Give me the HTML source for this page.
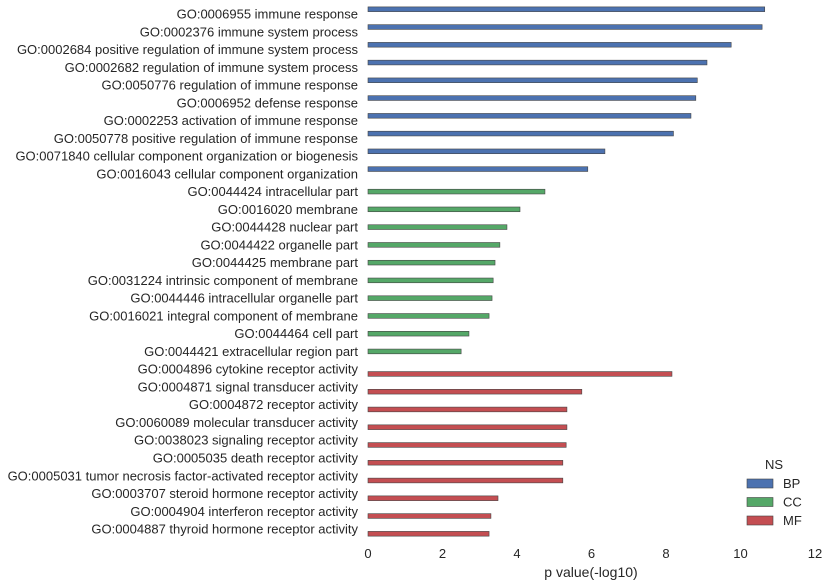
<!DOCTYPE html>
<html><head><meta charset="utf-8"><style>
html,body{margin:0;padding:0;background:#fff;}
svg{display:block;font-family:"Liberation Sans",Arial,sans-serif;}
</style></head><body>
<svg id="chart" width="828" height="587" viewBox="0 0 828 587"></svg>
<script>
const categories = [
"GO:0006955 immune response","GO:0002376 immune system process","GO:0002684 positive regulation of immune system process","GO:0002682 regulation of immune system process","GO:0050776 regulation of immune response","GO:0006952 defense response","GO:0002253 activation of immune response","GO:0050778 positive regulation of immune response","GO:0071840 cellular component organization or biogenesis","GO:0016043 cellular component organization",
"GO:0044424 intracellular part","GO:0016020 membrane","GO:0044428 nuclear part","GO:0044422 organelle part","GO:0044425 membrane part","GO:0031224 intrinsic component of membrane","GO:0044446 intracellular organelle part","GO:0016021 integral component of membrane","GO:0044464 cell part","GO:0044421 extracellular region part",
"GO:0004896 cytokine receptor activity","GO:0004871 signal transducer activity","GO:0004872 receptor activity","GO:0060089 molecular transducer activity","GO:0038023 signaling receptor activity","GO:0005035 death receptor activity","GO:0005031 tumor necrosis factor-activated receptor activity","GO:0003707 steroid hormone receptor activity","GO:0004904 interferon receptor activity","GO:0004887 thyroid hormone receptor activity"];
const namespaces = ["BP","CC","MF"];
const rowNamespace = ["BP","BP","BP","BP","BP","BP","BP","BP","BP","BP","CC","CC","CC","CC","CC","CC","CC","CC","CC","CC","MF","MF","MF","MF","MF","MF","MF","MF","MF","MF"];
const values = [10.65,10.58,9.75,9.1,8.84,8.8,8.67,8.2,6.36,5.9, 4.75,4.08,3.73,3.54,3.41,3.36,3.33,3.25,2.71,2.5, 8.16,5.74,5.34,5.34,5.32,5.23,5.23,3.49,3.3,3.25];
const xTicks = [0,2,4,6,8,10,12];
const colors = {BP:"#4c72b0",CC:"#55a868",MF:"#c44e52"};

const svg = document.getElementById('chart');
const NS = "http://www.w3.org/2000/svg";
const x0 = 368, x1 = 815, xMax = 12;
const xScale = v => x0 + (v / xMax) * (x1 - x0);
const yTop = 14, rowH = 17.76;
const yScale = i => yTop + i * rowH;
const hueOffset = {BP:-0.2667, CC:0, MF:0.2667};
const barH = 0.2667 * rowH;

function mk(tag, attrs){const e=document.createElementNS(NS,tag);for(const k in attrs)e.setAttribute(k,attrs[k]);svg.appendChild(e);return e;}

categories.forEach((c,i)=>{
  const t = mk('text',{x:358,y:yScale(i)+4.5,'text-anchor':'end','font-size':13,fill:'#262626'});
  t.textContent = c;
  
  
  const ns = rowNamespace[i];
  const cy = yScale(i) + hueOffset[ns]*rowH;
  const r = mk('rect',{x:xScale(0),y:cy-barH/2,width:xScale(values[i])-xScale(0),height:barH,fill:colors[ns],stroke:'#444',"stroke-width":0.6});
  
  
});
xTicks.forEach(v=>{
  const t = mk('text',{x:xScale(v),y:558,'text-anchor':'middle','font-size':13,fill:'#262626'});
  t.textContent = v;
  
  
});
const xt = mk('text',{x:591,y:577,'text-anchor':'middle','font-size':14,fill:'#262626'});
xt.textContent = 'p value(-log10)';



const lt = mk('text',{x:774,y:469,'text-anchor':'middle','font-size':13,fill:'#262626'});
lt.textContent = 'NS';


namespaces.forEach((n,k)=>{
  const y = 479 + k*18.5;
  const p = mk('rect',{x:747,y:y,width:26,height:9,fill:colors[n],stroke:'#444',"stroke-width":0.6});
  
  
  const t = mk('text',{x:783,y:y+9,'font-size':13,fill:'#262626'});
  t.textContent = n;
  
  
});
</script>
</body></html>
